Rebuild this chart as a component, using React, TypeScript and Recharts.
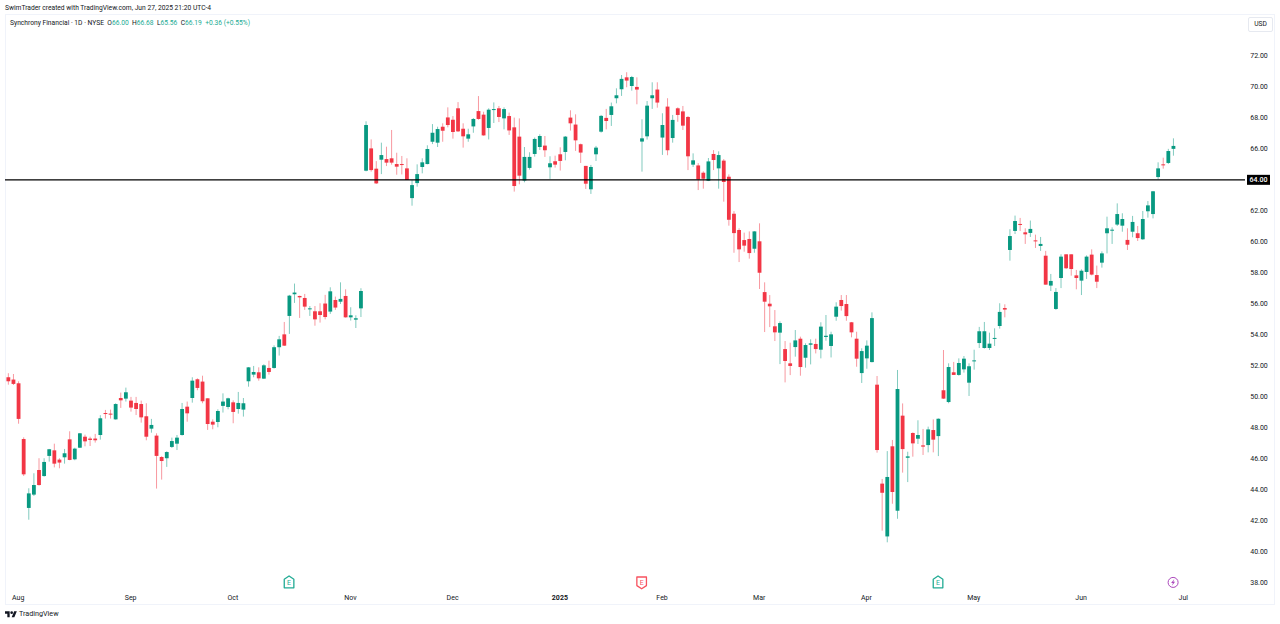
import { ComposedChart, Bar, XAxis, YAxis, ReferenceLine, ReferenceDot } from 'recharts'

const opens = [
  51.25,51.10,50.86,47.26,42.81,43.67,45.26,44.87,46.17,46.53,
  45.93,46.08,47.24,45.95,46.70,47.41,47.29,47.29,47.52,48.94,
  48.90,48.53,49.91,49.87,49.74,49.59,49.52,48.73,47.93,47.48,
  46.10,46.02,46.75,46.96,47.52,49.35,49.91,51.12,50.97,49.89,
  48.38,48.36,49.40,49.33,49.63,49.20,49.16,50.99,51.42,51.57,
  51.16,51.85,51.85,53.19,54.02,55.21,56.61,56.50,56.37,55.64,
  55.51,55.51,56.01,55.49,56.24,56.13,56.50,55.12,54.97,55.70,
  64.59,66.03,64.72,65.30,65.34,65.39,65.02,65.02,64.74,62.82,
  63.79,64.83,65.02,66.46,66.40,67.43,68.03,67.88,68.62,67.30,
  66.66,67.45,68.44,68.21,67.35,68.51,68.62,67.97,68.12,67.39,
  66.79,63.95,64.77,65.67,66.12,66.21,64.81,65.20,65.65,65.80,
  68.02,67.57,66.30,64.90,63.39,65.65,67.11,68.00,68.19,69.27,
  69.85,70.62,70.06,70.00,66.47,66.81,69.27,69.83,66.73,68.73,
  66.70,68.62,68.42,68.06,64.98,64.93,64.46,63.94,65.67,64.74,
  65.24,64.20,61.81,60.76,60.11,60.18,59.55,60.03,56.75,56.00,
  54.54,54.13,53.07,52.15,53.20,53.74,52.51,53.35,53.40,53.03,
  53.85,53.27,55.16,56.24,55.98,54.80,53.74,51.52,52.47,52.23,
  50.77,44.38,40.97,46.79,42.63,48.77,46.05,47.65,47.28,46.85,
  46.87,47.84,47.45,50.41,49.65,51.57,51.40,51.76,50.90,52.28,
  53.46,53.14,53.14,53.74,54.56,55.72,59.47,60.70,61.15,60.61,
  60.57,60.09,59.73,59.10,57.17,55.66,57.66,59.19,59.19,57.83,
  57.49,58.05,59.17,57.85,58.65,60.55,60.72,61.11,61.04,60.12,
  60.65,60.55,60.16,61.97,61.79,64.18,65.00,65.09,66.00,
]
const closes = [
  50.99,50.82,48.56,44.98,43.75,44.29,44.29,45.78,46.60,45.67,
  45.74,46.34,45.91,46.64,47.63,47.11,47.20,47.18,48.60,48.88,
  48.84,49.52,49.76,50.28,49.29,49.20,48.66,47.41,48.17,46.17,
  45.84,46.42,47.13,47.35,49.20,48.92,51.03,50.56,49.70,48.23,
  48.19,49.07,49.68,49.89,49.01,49.59,49.57,51.89,51.59,51.18,
  52.02,51.59,53.19,53.70,53.29,56.52,56.72,56.41,55.81,55.70,
  54.99,55.27,55.14,56.80,55.75,56.31,55.12,55.25,55.06,56.82,
  67.54,64.63,63.77,65.60,65.11,65.11,64.85,64.96,63.99,63.66,
  64.37,65.13,65.99,67.04,67.28,67.17,67.54,67.09,67.13,66.81,
  66.94,67.93,67.93,66.87,68.53,68.57,68.06,68.57,67.19,63.60,
  64.27,65.48,65.48,66.64,66.83,65.91,65.07,64.98,65.22,66.79,
  67.65,66.55,65.76,63.75,64.83,66.08,68.13,67.80,68.75,69.46,
  70.52,70.41,70.64,69.83,66.68,68.79,69.46,68.99,67.54,65.91,
  67.87,68.19,67.50,65.52,65.26,64.03,64.07,65.19,65.28,65.60,
  63.86,61.42,60.56,59.51,59.75,59.27,60.67,58.00,56.13,55.83,
  54.15,54.75,52.30,51.98,53.63,51.91,53.33,53.44,53.07,54.52,
  53.93,54.02,55.81,55.85,55.20,54.15,52.45,52.94,53.29,55.07,
  46.55,43.79,44.81,43.84,50.49,46.61,46.14,46.98,47.52,46.77,
  47.88,47.22,48.57,49.87,51.91,51.40,52.17,52.45,51.96,52.34,
  54.22,54.22,53.42,53.79,55.47,55.62,60.37,61.34,61.09,60.48,
  60.83,60.05,59.86,57.23,57.47,56.76,59.04,58.29,58.24,57.66,
  58.13,59.04,57.88,57.42,59.25,60.87,60.78,61.79,61.47,59.81,
  61.28,60.24,61.47,62.35,63.26,64.74,64.94,65.86,66.19,
]
const highs = [
  51.51,51.46,50.99,47.37,44.08,45.05,46.02,46.02,46.62,46.96,
  46.02,46.62,47.76,46.70,47.65,47.54,47.41,47.59,48.80,49.14,
  49.16,49.57,50.26,50.58,49.98,49.98,49.74,49.57,48.56,47.63,
  46.15,46.47,47.35,47.52,49.59,49.68,51.25,51.18,51.35,49.89,
  48.53,49.18,50.21,49.93,49.76,50.30,49.91,51.91,51.98,51.89,
  52.09,52.32,53.31,53.92,54.82,56.57,57.30,56.52,56.63,55.85,
  55.85,56.03,56.57,57.06,56.46,57.38,56.93,55.77,55.25,57.00,
  67.78,66.61,65.21,66.40,66.14,67.22,65.75,65.54,65.39,63.99,
  65.00,65.39,66.23,67.60,67.43,67.65,68.68,68.12,69.02,67.65,
  67.30,67.99,69.41,68.40,68.62,69.00,68.77,68.68,68.34,68.02,
  67.97,66.12,65.78,66.73,66.94,66.83,65.52,65.56,66.10,66.83,
  68.49,68.23,66.34,64.90,64.96,66.19,68.19,68.58,68.99,69.91,
  70.77,70.95,70.71,70.62,67.91,69.09,70.30,70.30,68.30,69.27,
  68.19,68.68,68.77,68.12,65.71,65.08,64.55,65.41,65.92,65.84,
  65.34,64.35,61.98,60.87,60.59,60.67,60.69,61.19,57.38,56.56,
  55.59,54.86,53.59,53.48,54.30,53.87,53.44,53.70,53.74,54.80,
  55.27,54.19,56.09,56.56,56.56,54.82,54.19,53.12,53.63,55.44,
  51.33,44.68,46.48,47.20,51.72,49.56,46.44,47.69,48.47,47.91,
  48.06,48.53,48.59,53.01,52.15,52.24,52.47,52.62,52.15,53.03,
  54.50,54.82,54.13,54.41,56.03,55.96,60.81,61.69,61.54,60.87,
  61.37,60.46,60.31,59.41,57.92,57.01,59.19,59.19,59.19,58.18,
  58.22,59.12,59.51,58.46,59.38,61.62,60.93,62.48,61.84,60.87,
  61.67,61.02,61.99,62.63,63.28,65.13,65.43,66.00,66.68,
]
const lows = [
  50.77,50.75,48.25,44.87,42.05,43.58,44.25,44.83,45.80,45.43,
  45.37,45.67,45.89,45.89,46.68,46.79,46.81,47.03,47.22,48.58,
  48.58,48.51,49.27,49.68,49.03,48.81,48.32,47.18,47.67,44.06,
  44.64,45.46,46.68,46.55,47.48,48.38,49.61,50.41,49.57,47.85,
  47.89,48.02,48.97,49.18,48.28,48.90,48.71,50.64,51.25,51.03,
  51.14,51.42,51.81,52.65,53.27,54.05,56.05,55.08,55.60,55.21,
  54.58,54.78,54.99,55.34,55.60,55.98,55.10,54.91,54.43,55.14,
  64.55,64.53,63.73,64.37,64.89,64.98,64.33,64.35,63.99,62.33,
  63.56,64.42,65.00,66.31,66.12,66.46,67.39,66.66,67.09,66.08,
  66.46,67.04,67.88,66.85,66.61,67.67,67.73,67.26,66.90,63.24,
  63.71,63.84,64.66,65.50,65.93,65.48,64.06,64.79,64.60,65.26,
  67.18,65.87,65.09,63.41,63.09,65.22,67.05,67.26,67.48,68.94,
  69.42,69.98,69.76,68.88,64.53,66.60,68.58,68.66,65.61,65.59,
  66.40,67.75,67.22,64.63,64.83,63.34,63.43,63.92,64.63,63.43,
  62.59,61.04,59.29,58.69,59.36,58.91,59.29,56.95,54.17,54.49,
  53.59,52.10,50.92,51.39,52.58,51.35,51.87,52.08,52.79,52.47,
  53.61,52.53,54.90,55.55,54.90,53.83,51.93,50.88,51.80,52.21,
  46.38,41.34,40.59,43.08,42.11,45.09,44.48,46.12,46.94,46.23,
  46.40,46.40,46.16,49.85,49.57,51.40,51.35,51.55,50.04,51.74,
  53.14,53.10,53.01,53.27,54.39,55.12,58.78,60.50,60.70,59.86,
  60.31,59.60,59.41,57.23,56.82,55.60,57.01,58.24,57.81,56.93,
  56.56,57.60,57.83,57.01,58.33,59.25,59.86,61.02,60.65,59.47,
  60.29,60.05,60.12,61.56,61.51,64.03,64.72,65.02,65.56,
]

// bar number of the first session of each month
const monthTicks = [2, 24, 44, 67, 87, 108, 128, 147, 168, 189, 210, 230]
const monthLabels = ['Aug', 'Sep', 'Oct', 'Nov', 'Dec', '2025', 'Feb', 'Mar', 'Apr', 'May', 'Jun', 'Jul']
const priceTicks = [38, 40, 42, 44, 46, 48, 50, 52, 54, 56, 58, 60, 62, 64, 66, 68, 70, 72]
const levelPrice = 64
const markerPrice = 38
const earningsUp = [55, 182]
const earningsDown = [124]
const dividendBars = [228]

const UP = '#089981'
const DOWN = '#f23645'
const INK = '#131722'
const FONT = 'Roboto, sans-serif'

const data = opens.map((open, i) => ({
  bar: i,
  open,
  close: closes[i],
  high: highs[i],
  low: lows[i],
  range: [lows[i], highs[i]],
}))

const Candle = ({ x, y, width, height, payload }: any) => {
  const { open, close, high, low } = payload
  const color = close >= open ? UP : DOWN
  const k = height / (high - low)
  const top = y + (high - Math.max(open, close)) * k
  const bodyH = Math.max(Math.abs(open - close) * k, 1)
  const cx = x + width / 2
  return (
    <g>
      <line x1={cx} x2={cx} y1={y} y2={y + height} stroke={color} strokeWidth={1} opacity={0.5} />
      <rect x={x} y={top} width={width} height={bodyH} fill={color} />
    </g>
  )
}

const PriceTick = ({ y, payload }: any) => {
  if (payload.value === levelPrice) {
    return (
      <g>
        <rect x={1247} y={y - 5} width={23} height={10} fill="#000" />
        <text x={1258.5} y={y + 2.4} textAnchor="middle" fontSize={7} fontWeight={500} fontFamily={FONT} fill="#fff">
          64.00
        </text>
      </g>
    )
  }
  return (
    <text x={1259} y={y + 2.2} textAnchor="middle" fontSize={7} fontFamily={FONT} fill={INK}>
      {payload.value.toFixed(2)}
    </text>
  )
}

const MonthTick = ({ x, payload }: any) => {
  const label = monthLabels[monthTicks.indexOf(payload.value)]
  return (
    <text x={x} y={599.5} textAnchor="middle" fontSize={7} fontWeight={label === '2025' ? 700 : 400} fontFamily={FONT} fill={INK}>
      {label}
    </text>
  )
}

const EarningsTag = ({ cx, cy, up }: any) => {
  const color = up ? '#22ab94' : '#f7525f'
  const d = up
    ? `M${cx - 4.8} ${cy - 3.2}L${cx} ${cy - 6.4}L${cx + 4.8} ${cy - 3.2}V${cy + 5.4}H${cx - 4.8}Z`
    : `M${cx - 4.8} ${cy - 5.4}H${cx + 4.8}V${cy + 3.2}L${cx} ${cy + 6.4}L${cx - 4.8} ${cy + 3.2}Z`
  return (
    <g>
      <path d={d} fill="#fff" fillOpacity={0.8} stroke={color} strokeWidth={1.3} strokeLinejoin="round" />
      <text x={cx} y={cy + 2.6} textAnchor="middle" fontSize={7} fontFamily={FONT} fill={color}>E</text>
    </g>
  )
}

const BoltMark = ({ cx, cy }: any) => (
  <g>
    <circle cx={cx} cy={cy} r={5} fill="#fff" stroke="#ab47bc" strokeWidth={1} />
    <path
      d={`M${cx + 1.2} ${cy - 3.4}L${cx - 2} ${cy + 0.6}H${cx - 0.2}L${cx - 1.2} ${cy + 3.4}L${cx + 2} ${cy - 0.6}H${cx + 0.2}Z`}
      fill="#ab47bc"
    />
  </g>
)

const lineText = { position: 'absolute', fontFamily: FONT, fontSize: 6.7, color: INK, whiteSpace: 'nowrap', lineHeight: '10px' } as const

export default function App() {
  const val = { color: '#22ab94' }
  return (
    <div style={{ position: 'absolute', left: 0, top: 0, width: 1280, height: 624, background: '#fff', overflow: 'hidden' }}>
      <div style={{ position: 'absolute', left: 5, top: 14, width: 1268, height: 589, border: '1px solid #f0f3fa' }} />
      <ComposedChart
        width={1280}
        height={624}
        data={data}
        margin={{ top: 14, right: 0, bottom: 0, left: 5 }}
        style={{ position: 'absolute', left: 0, top: 0 }}
      >
        <XAxis
          dataKey="bar"
          type="number"
          domain={[-0.587, 242.07]}
          allowDataOverflow
          ticks={monthTicks}
          interval={0}
          tick={<MonthTick />}
          tickLine={false}
          axisLine={false}
          height={34}
        />
        <YAxis
          orientation="right"
          domain={[37.51, 74.71]}
          allowDataOverflow
          ticks={priceTicks}
          interval={0}
          tick={<PriceTick />}
          tickLine={false}
          axisLine={false}
          width={35}
        />
        <Bar dataKey="range" barSize={3.8} shape={<Candle />} isAnimationActive={false} />
        <ReferenceLine y={levelPrice} stroke="#000" strokeWidth={1.4} />
        {earningsUp.map((b) => (
          <ReferenceDot key={b} x={b} y={markerPrice} r={5} shape={<EarningsTag up />} />
        ))}
        {earningsDown.map((b) => (
          <ReferenceDot key={b} x={b} y={markerPrice} r={5} shape={<EarningsTag />} />
        ))}
        {dividendBars.map((b) => (
          <ReferenceDot key={b} x={b} y={markerPrice} r={5} shape={<BoltMark />} />
        ))}
      </ComposedChart>
      <div style={{ ...lineText, left: 5, top: 3 }}>SwimTrader created with TradingView.com, Jun 27, 2025 21:20 UTC-4</div>
      <div style={{ ...lineText, left: 10, top: 18 }}>
        Synchrony Financial · 1D · NYSE &nbsp;O<span style={val}>66.00</span> &nbsp;H<span style={val}>66.68</span> &nbsp;L<span style={val}>65.56</span> &nbsp;C<span style={val}>66.19</span> &nbsp;<span style={val}>+0.36 (+0.55%)</span>
      </div>
      <div style={{ ...lineText, left: 1248, top: 17, width: 23, height: 13, lineHeight: '13px', textAlign: 'center', border: '1px solid #e6e9f0', borderRadius: 2, background: '#fff' }}>USD</div>
      <svg style={{ position: 'absolute', left: 5, top: 610 }} width={12} height={9} viewBox="0 0 36 27">
        <path d="M14 22H7V11H0V4h14v18ZM28 22h-8l7.5-18h8L28 22Z" fill={INK} />
        <circle cx={20} cy={8} r={4} fill={INK} />
      </svg>
      <div style={{ ...lineText, left: 19, top: 609, fontSize: 7.2 }}>TradingView</div>
    </div>
  )
}
